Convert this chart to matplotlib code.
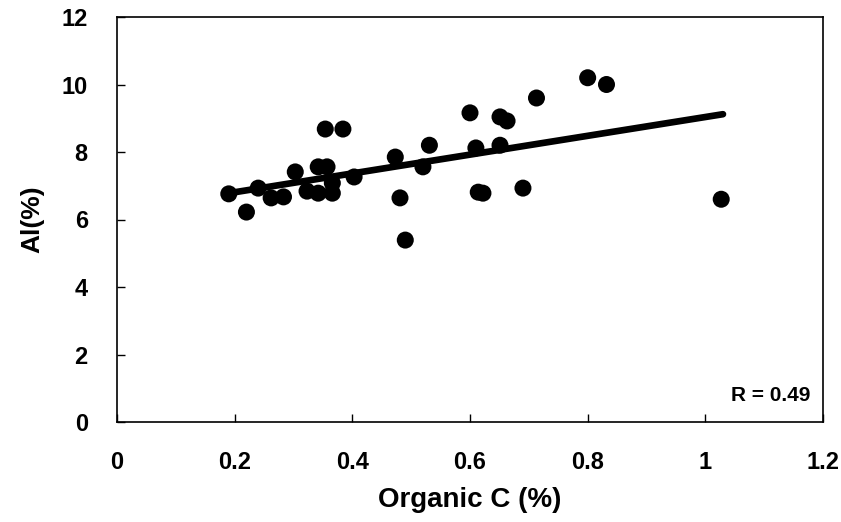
import matplotlib
matplotlib.use("Agg")
import matplotlib.pyplot as plt

organic_c = [0.19, 0.22, 0.24, 0.262, 0.283, 0.303, 0.323, 0.342, 0.357, 0.342,
             0.366, 0.366, 0.354, 0.384, 0.403, 0.473, 0.481, 0.49, 0.52, 0.531,
             0.60, 0.61, 0.614, 0.622, 0.651, 0.663, 0.651, 0.69, 0.713, 0.80,
             0.832, 1.027]
al_pct = [6.76, 6.22, 6.93, 6.64, 6.67, 7.41, 6.84, 7.56, 7.56, 6.78,
          6.78, 7.08, 8.68, 8.68, 7.26, 7.85, 6.64, 5.39, 7.56, 8.2,
          9.16, 8.12, 6.81, 6.78, 9.04, 8.92, 8.2, 6.93, 9.6, 10.2,
          10.0, 6.6]
fit_x = [0.19, 1.03]
fit_y = [6.78, 9.12]
x_ticks = [0, 0.2, 0.4, 0.6, 0.8, 1.0, 1.2]
x_tick_labels = ["0", "0.2", "0.4", "0.6", "0.8", "1", "1.2"]
y_ticks = [0, 2, 4, 6, 8, 10, 12]
r_label = "R = 0.49"

plt.rcParams['font.family'] = ['Liberation Sans', 'DejaVu Sans']

fig = plt.figure(figsize=(8.41, 5.22), dpi=100)
ax = fig.add_axes([117/841, 1-422/522, (823-117)/841, (422-17)/522])

ax.plot(fit_x, fit_y, color='black', linewidth=4.8, solid_capstyle='round', zorder=2)
ax.scatter(organic_c, al_pct, s=150, color='black', edgecolors='none', zorder=3)

ax.set_xlim(0, 1.2)
ax.set_ylim(0, 12)
ax.set_xticks(x_ticks)
ax.set_xticklabels(x_tick_labels)
ax.set_yticks(y_ticks)
ax.tick_params(axis='both', direction='in', length=6, width=1, labelsize=17)
ax.tick_params(axis='y', pad=21)
ax.tick_params(axis='x', pad=21)
for lab in ax.get_xticklabels() + ax.get_yticklabels():
    lab.set_fontweight('bold')
for sp in ax.spines.values():
    sp.set_linewidth(1.2)
    sp.set_color('black')

ax.set_xlabel("Organic C (%)", fontsize=20, fontweight='bold', labelpad=9)
ax.set_ylabel("Al(%)", fontsize=19, fontweight='bold', labelpad=12)
ax.text(0.9816, 0.065, r_label, transform=ax.transAxes, ha='right', va='center',
        fontsize=15, fontweight='bold')

fig.savefig("out.png", dpi=100)
